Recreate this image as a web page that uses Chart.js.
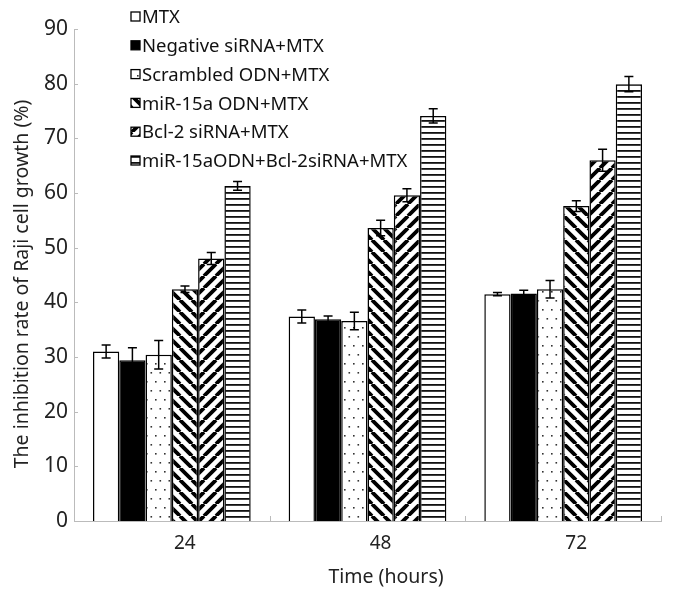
<!DOCTYPE html>
<html>
<head>
<meta charset="utf-8">
<script src="https://cdn.jsdelivr.net/npm/chart.js@4.4.0/dist/chart.umd.min.js"></script>
<style>
  html, body { margin: 0; padding: 0; background: #fff; }
  #wrap { width: 676px; height: 592px; }
</style>
</head>
<body>
<div id="wrap"><canvas id="barChart" width="676" height="592"></canvas></div>
<script>
// data
const categories = ['24', '48', '72'];
const seriesNames = ['MTX', 'Negative siRNA+MTX', 'Scrambled ODN+MTX', 'miR-15a ODN+MTX', 'Bcl-2 siRNA+MTX', 'miR-15aODN+Bcl-2siRNA+MTX'];
const mtx = [31.0, 37.4, 41.5];
const mtxErr = [1.2, 1.2, 0.3];
const negative = [29.4, 36.9, 41.6];
const negativeErr = [2.3, 0.6, 0.6];
const scrambled = [30.4, 36.6, 42.4];
const scrambledErr = [2.6, 1.6, 1.6];
const mir15a = [42.4, 53.6, 57.6];
const mir15aErr = [0.6, 1.4, 1.0];
const bcl2 = [48.0, 59.6, 66.0];
const bcl2Err = [1.1, 1.2, 2.0];
const combo = [61.3, 74.1, 79.9];
const comboErr = [0.8, 1.3, 1.4];
const yTicks = [0, 10, 20, 30, 40, 50, 60, 70, 80, 90];
const xTitle = 'Time (hours)';
const yTitle = 'The inhibition rate of Raji cell growth (%)';

const FONT = '"Noto Sans", "Open Sans", sans-serif';

/* fill patterns
------------------------------------------------*/
function makePattern(w, h, draw) {
  const c = document.createElement('canvas');
  c.width = w; c.height = h;
  const g = c.getContext('2d');
  g.fillStyle = '#fff';
  g.fillRect(0, 0, w, h);
  draw(g, w, h);
  return g.createPattern(c, 'repeat');
}

const dots = makePattern(9, 18, (g) => {
  g.fillStyle = '#333';
  g.fillRect(2, 3, 1.6, 1.6);
  g.fillRect(6.5, 12, 1.6, 1.6);
});

const backStripes = makePattern(12, 12, (g, s) => {
  g.strokeStyle = '#000';
  g.lineWidth = 3.8;
  g.beginPath();
  for (let k = -1; k <= 1; k++) {
    g.moveTo(k * s, 0);
    g.lineTo(k * s + s, s);
  }
  g.stroke();
});

const fwdStripes = makePattern(12, 12, (g, s) => {
  g.strokeStyle = '#000';
  g.lineWidth = 3.8;
  g.beginPath();
  for (let k = -1; k <= 1; k++) {
    g.moveTo(k * s, s);
    g.lineTo(k * s + s, 0);
  }
  g.stroke();
});

const hLines = makePattern(8, 6, (g, w) => {
  g.fillStyle = '#111';
  g.fillRect(0, 0, w, 1.8);
});

const fills = ['#fff', '#000', dots, backStripes, fwdStripes, hLines];
const values = [mtx, negative, scrambled, mir15a, bcl2, combo];
const errors = [mtxErr, negativeErr, scrambledErr, mir15aErr, bcl2Err, comboErr];

/* error bars, tick marks, titles, legend
------------------------------------------------*/
const extras = {
  id: 'extras',
  afterDatasetsDraw(chart) {
    const ctx = chart.ctx;
    const y = chart.scales.y;
    ctx.save();
    ctx.strokeStyle = '#000';
    ctx.lineWidth = 1.5;
    chart.data.datasets.forEach((ds, di) => {
      const meta = chart.getDatasetMeta(di);
      meta.data.forEach((bar, i) => {
        const v = ds.data[i], e = ds.errors[i];
        const top = y.getPixelForValue(v + e);
        const bot = y.getPixelForValue(v - e);
        ctx.beginPath();
        ctx.moveTo(bar.x, top); ctx.lineTo(bar.x, bot);
        ctx.moveTo(bar.x - 4.5, top); ctx.lineTo(bar.x + 4.5, top);
        ctx.moveTo(bar.x - 4.5, bot); ctx.lineTo(bar.x + 4.5, bot);
        ctx.stroke();
      });
    });
    ctx.restore();
  },
  afterDraw(chart) {
    const ctx = chart.ctx;
    const area = chart.chartArea;
    const x = chart.scales.x;
    const y = chart.scales.y;
    ctx.save();
    // small inward tick marks
    ctx.strokeStyle = '#bbb';
    ctx.lineWidth = 1;
    y.ticks.forEach((t) => {
      const py = Math.round(y.getPixelForValue(t.value)) + 0.5;
      ctx.beginPath(); ctx.moveTo(area.left, py); ctx.lineTo(area.left + 4, py); ctx.stroke();
    });
    const half = (x.getPixelForValue(1) - x.getPixelForValue(0)) / 2;
    categories.forEach((c, i) => {
      const px = Math.round(x.getPixelForValue(i) + half) + 0.5;
      ctx.beginPath(); ctx.moveTo(px, area.bottom); ctx.lineTo(px, area.bottom - 5); ctx.stroke();
    });
    // axis titles
    ctx.fillStyle = '#222';
    ctx.textAlign = 'center';
    ctx.textBaseline = 'middle';
    ctx.font = '19.5px ' + FONT;
    ctx.fillText(xTitle, 386, 577);
    ctx.translate(22, 284);
    ctx.rotate(-Math.PI / 2);
    ctx.font = '19.5px ' + FONT;
    ctx.fillText(yTitle, 0, 0);
    ctx.setTransform(1, 0, 0, 1, 0, 0);
    // legend
    ctx.font = '18.5px ' + FONT;
    ctx.textBaseline = 'middle';
    ctx.textAlign = 'left';
    chart.data.datasets.forEach((ds, i) => {
      const cy = 17 + i * 28.8;
      ctx.fillStyle = ds.backgroundColor;
      ctx.fillRect(131, cy - 5, 9, 9);
      ctx.strokeStyle = '#000';
      ctx.lineWidth = 1.3;
      ctx.strokeRect(131, cy - 5, 9, 9);
      ctx.fillStyle = '#111';
      ctx.fillText(ds.label, 142, cy + 1);
    });
    ctx.restore();
  }
};

const ctx = document.getElementById('barChart').getContext('2d');
new Chart(ctx, {
  type: 'bar',
  data: {
    labels: categories,
    datasets: seriesNames.map((name, i) => ({
      label: name,
      data: values[i],
      errors: errors[i],
      backgroundColor: fills[i],
      borderColor: '#000',
      borderWidth: 1.5,
      categoryPercentage: 0.806,
      barPercentage: 1.0
    }))
  },
  options: {
    responsive: false,
    animation: false,
    layout: { padding: { top: 29, right: 15, left: 0, bottom: 0 } },
    plugins: {
      legend: { display: false },
      tooltip: { enabled: false }
    },
    scales: {
      x: {
        grid: { display: false, drawTicks: false },
        border: { color: '#bbb', width: 1 },
        ticks: { color: '#222', font: { size: 19, family: FONT }, padding: 11, labelOffset: 13 },
        afterFit(scale) { scale.height = 71; }
      },
      y: {
        min: 0,
        max: 90,
        afterBuildTicks(scale) { scale.ticks = yTicks.map(v => ({ value: v })); },
        grid: { display: false, drawTicks: false },
        border: { color: '#bbb', width: 1 },
        ticks: { color: '#222', font: { size: 21, family: FONT }, padding: 6 },
        afterFit(scale) { scale.width = 74; }
      }
    }
  },
  plugins: [extras]
});
</script>
</body>
</html>
